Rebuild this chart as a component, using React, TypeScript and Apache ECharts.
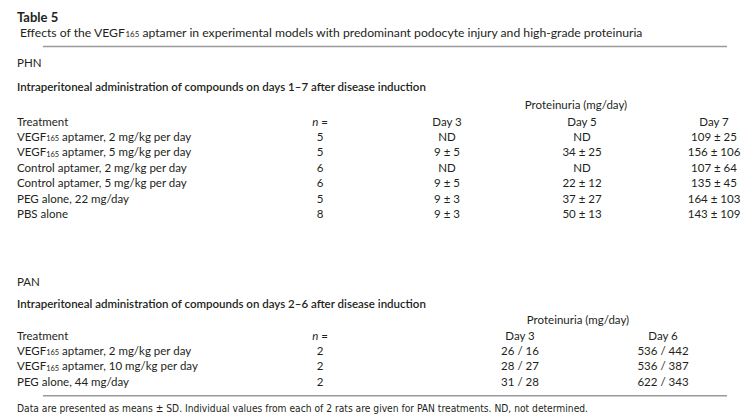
import React, { useEffect, useRef } from "react";
import * as echarts from "echarts";

const title = "Table 5";
const subtitle =
  "Effects of the VEGF165 aptamer in experimental models with predominant podocyte injury and high-grade proteinuria";
const phnLabel = "PHN";
const phnProtocol = "Intraperitoneal administration of compounds on days 1–7 after disease induction";
const outcomeHeader = "Proteinuria (mg/day)";
const treatmentHeader = "Treatment";
const phnTreatments = [
  "VEGF165 aptamer, 2 mg/kg per day",
  "VEGF165 aptamer, 5 mg/kg per day",
  "Control aptamer, 2 mg/kg per day",
  "Control aptamer, 5 mg/kg per day",
  "PEG alone, 22 mg/day",
  "PBS alone",
];
const phnN = ["5", "5", "6", "6", "5", "8"];
const phnDays = ["Day 3", "Day 5", "Day 7"];
const phnDay3 = ["ND", "9 ± 5", "ND", "9 ± 5", "9 ± 3", "9 ± 3"];
const phnDay5 = ["ND", "34 ± 25", "ND", "22 ± 12", "37 ± 27", "50 ± 13"];
const phnDay7 = ["109 ± 25", "156 ± 106", "107 ± 64", "135 ± 45", "164 ± 103", "143 ± 109"];

const panLabel = "PAN";
const panProtocol = "Intraperitoneal administration of compounds on days 2–6 after disease induction";
const panTreatments = [
  "VEGF165 aptamer, 2 mg/kg per day",
  "VEGF165 aptamer, 10 mg/kg per day",
  "PEG alone, 44 mg/day",
];
const panN = ["2", "2", "2"];
const panDays = ["Day 3", "Day 6"];
const panDay3 = ["26 / 16", "28 / 27", "31 / 28"];
const panDay6 = ["536 / 442", "536 / 387", "622 / 343"];

const footnote =
  "Data are presented as means ± SD. Individual values from each of 2 rats are given for PAN treatments. ND, not determined.";

const FONT = "Lato, 'Open Sans', sans-serif";
const INK = "#231f20";
const FS = 11.5;

function rich(s: string) {
  return s.replace("VEGF165", "VEGF{s|165}");
}

function makeRich(fs: number) {
  return {
    s: { fontSize: fs * 0.65, fontFamily: FONT, fill: INK, verticalAlign: "bottom", padding: [4, 0, 0, 0] },
    i: { fontSize: fs, fontFamily: FONT, fill: INK, fontStyle: "italic" },
  };
}

function txt(x: number, y: number, text: string, align = "left", extra: any = {}) {
  const fs = extra.fontSize || FS;
  return {
    type: "text",
    x,
    y,
    silent: true,
    style: {
      text,
      x: 0,
      y: 0,
      fill: INK,
      fontSize: fs,
      fontFamily: extra.fontFamily || FONT,
      fontWeight: extra.fontWeight || "normal",
      align,
      verticalAlign: "middle",
      rich: makeRich(fs),
    },
  };
}

function hline(x1: number, x2: number, y: number) {
  return {
    type: "line",
    silent: true,
    shape: { x1, y1: y, x2, y2: y },
    style: { stroke: "#9a9a9a", lineWidth: 1.5 },
  };
}

export default function App() {
  const ref = useRef<HTMLDivElement>(null);
  useEffect(() => {
    document.body.style.margin = "0";
    if (!ref.current) return;
    const chart = echarts.init(ref.current, undefined, { renderer: "svg" });

    const els: any[] = [];
    const LX = 17;
    const NX = 320;
    const ROW = 15.4;

    els.push(txt(LX, 17, title, "left", { fontWeight: "bold", fontSize: 13 }));
    els.push(txt(20, 32, rich(subtitle), "left", { fontSize: 12.2 }));
    els.push(hline(43, 727, 46.5));

    // PHN block
    let y0 = 62;
    els.push(txt(LX, y0, phnLabel));
    els.push(txt(LX, y0 + 24, phnProtocol, "left", { fontWeight: 600 }));
    els.push(txt(576, y0 + 42, outcomeHeader, "center"));
    const hy = y0 + 59;
    const phnCols = [447, 582, 714];
    els.push(txt(LX, hy, treatmentHeader));
    els.push(txt(NX, hy, "{i|n} =", "center"));
    phnDays.forEach((d, i) => els.push(txt(phnCols[i], hy, d, "center")));
    const phnVals = [phnDay3, phnDay5, phnDay7];
    phnTreatments.forEach((t, r) => {
      const y = hy + ROW * (r + 1);
      els.push(txt(LX, y, rich(t)));
      els.push(txt(NX, y, phnN[r], "center"));
      phnVals.forEach((col, c) => els.push(txt(phnCols[c], y, col[r], "center")));
    });

    // PAN block
    y0 = 281;
    els.push(txt(LX, y0, panLabel));
    els.push(txt(LX, y0 + 22, panProtocol, "left", { fontWeight: 600 }));
    els.push(txt(578, y0 + 38, outcomeHeader, "center"));
    const hy2 = y0 + 54;
    const panCols = [520, 663];
    els.push(txt(LX, hy2, treatmentHeader));
    els.push(txt(NX, hy2, "{i|n} =", "center"));
    panDays.forEach((d, i) => els.push(txt(panCols[i], hy2, d, "center")));
    const panVals = [panDay3, panDay6];
    panTreatments.forEach((t, r) => {
      const y = hy2 + ROW * (r + 1);
      els.push(txt(LX, y, rich(t)));
      els.push(txt(NX, y, panN[r], "center"));
      panVals.forEach((col, c) => els.push(txt(panCols[c], y, col[r], "center")));
    });
    const lastY = hy2 + ROW * panTreatments.length;
    els.push(hline(43, 727, lastY + 14.5));
    els.push(
      txt(LX, lastY + 27.5, footnote, "left", {
        fontFamily: "'Liberation Sans Narrow', 'DejaVu Sans Condensed', sans-serif",
        fontSize: 10.2,
      })
    );

    chart.setOption({
      animation: false,
      backgroundColor: "#ffffff",
      graphic: { elements: els },
    });
    return () => chart.dispose();
  }, []);
  return <div ref={ref} style={{ width: 747, height: 415 }} />;
}
